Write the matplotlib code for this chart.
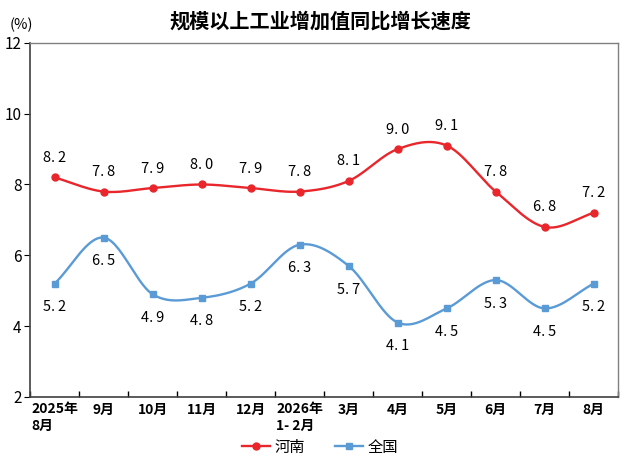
import numpy as np
import matplotlib
matplotlib.use('Agg')
import matplotlib.pyplot as plt

plt.rcParams['font.family'] = ['Noto Sans CJK SC', 'DejaVu Sans']

months = ['2025年\n8月', '9月', '10月', '11月', '12月', '2026年\n1- 2月',
          '3月', '4月', '5月', '6月', '7月', '8月']
henan = [8.2, 7.8, 7.9, 8.0, 7.9, 7.8, 8.1, 9.0, 9.1, 7.8, 6.8, 7.2]
national = [5.2, 6.5, 4.9, 4.8, 5.2, 6.3, 5.7, 4.1, 4.5, 5.3, 4.5, 5.2]

RED = '#E8262B'
BLUE = '#5B9BD5'


def smooth(x, y, n=30):
    # catmull-rom through the points, like excel's smoothed line
    x = np.asarray(x, float)
    y = np.asarray(y, float)
    px = np.concatenate([[2*x[0]-x[1]], x, [2*x[-1]-x[-2]]])
    py = np.concatenate([[2*y[0]-y[1]], y, [2*y[-1]-y[-2]]])
    xs, ys = [], []
    t = np.linspace(0, 1, n)
    for i in range(1, len(px)-2):
        for arr, out in ((px, xs), (py, ys)):
            p0, p1, p2, p3 = arr[i-1], arr[i], arr[i+1], arr[i+2]
            out.extend(0.5*((2*p1) + (-p0+p2)*t + (2*p0-5*p1+4*p2-p3)*t**2
                            + (-p0+3*p1-3*p2+p3)*t**3))
    return xs, ys


def fmt(v):
    return f'{v:.1f}'.replace('.', '.\u2009')


fig = plt.figure(figsize=(6.4, 4.61), dpi=100)
ax = fig.add_axes([0.047, 0.139, 0.919, 0.768])

x = np.arange(len(months))

sx, sy = smooth(x, henan)
ax.plot(sx, sy, color=RED, lw=1.7, zorder=3)
ax.plot(x, henan, 'o', color=RED, ms=5, zorder=4)
sx, sy = smooth(x, national)
ax.plot(sx, sy, color=BLUE, lw=1.7, zorder=3)
ax.plot(x, national, 's', color=BLUE, ms=5, zorder=4)

# legend proxies
ax.plot([], [], '-o', color=RED, ms=5, lw=1.7, label='河南')
ax.plot([], [], '-s', color=BLUE, ms=5, lw=1.7, label='全国')

for xi, v in zip(x, henan):
    ax.annotate(fmt(v), (xi, v), xytext=(0, 9),
                textcoords='offset points', ha='center', va='bottom', fontsize=10.5)
for xi, v in zip(x, national):
    ax.annotate(fmt(v), (xi, v), xytext=(0, -12),
                textcoords='offset points', ha='center', va='top', fontsize=10.5)

ax.set_xlim(-0.5, len(months) - 0.5)
ax.set_ylim(2, 12)
ax.set_yticks([2, 4, 6, 8, 10, 12])
ax.set_xticks(np.arange(len(months) + 1) - 0.5)
ax.set_xticklabels([])
ax.set_xticks(x, minor=True)
ax.set_xticklabels(months, minor=True, ha='center', multialignment='left',
                   fontsize=10, fontweight='bold')
ax.tick_params(axis='x', which='minor', length=0, pad=4)
ax.tick_params(axis='x', which='major', length=4, direction='in', width=1)
ax.tick_params(axis='y', length=4, direction='out', labelsize=11, pad=2)

for s in ['left', 'bottom']:
    ax.spines[s].set_color('#404040')
    ax.spines[s].set_linewidth(1.2)
for s in ['top', 'right']:
    ax.spines[s].set_color('#808080')
    ax.spines[s].set_linewidth(1.0)

ax.text(-0.035, 1.03, '(%)', transform=ax.transAxes, fontsize=10.5, ha='left', va='bottom')
fig.text(0.5, 0.955, '规模以上工业增加值同比增长速度', ha='center', va='center',
         fontsize=14.5, fontweight='bold')

fig.legend(loc='center', bbox_to_anchor=(0.5, 0.03), ncol=2, frameon=False,
           fontsize=11, handlelength=1.8, columnspacing=2.0, handletextpad=0.3)

fig.savefig('out.png', dpi=100)
